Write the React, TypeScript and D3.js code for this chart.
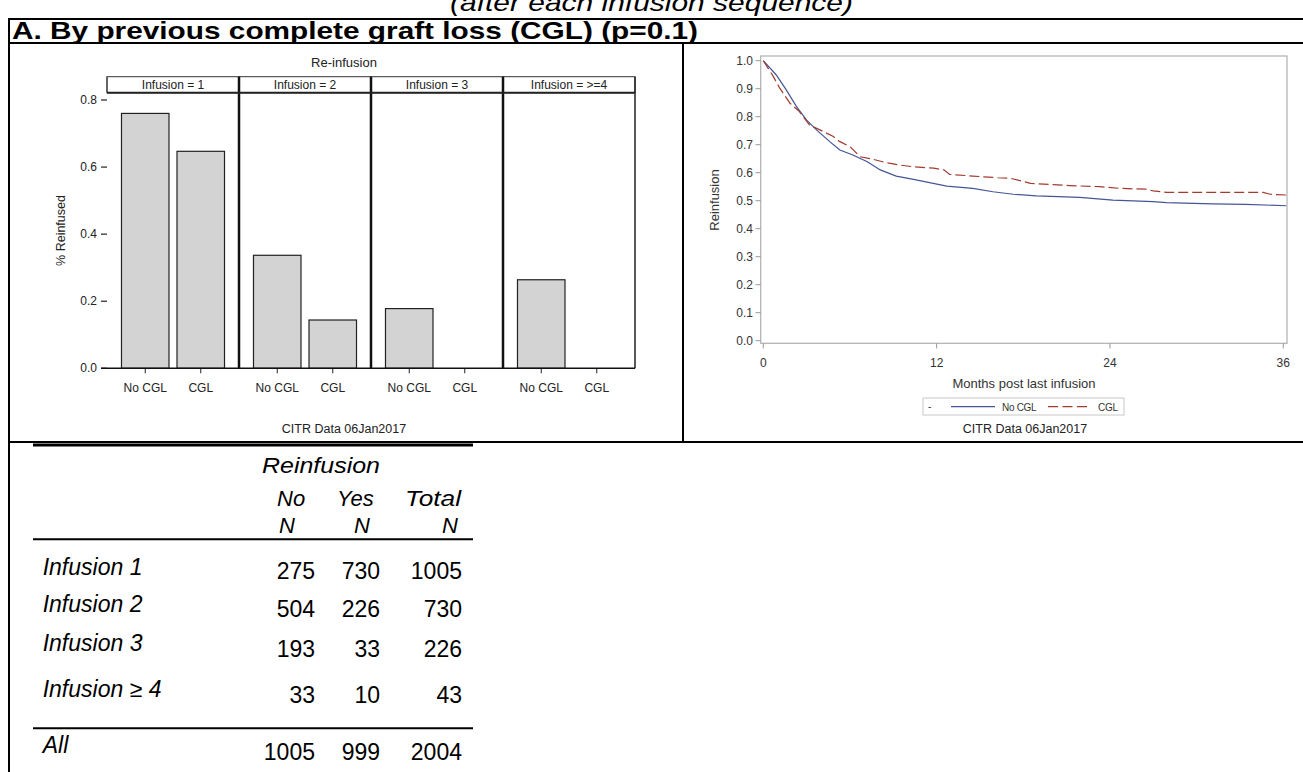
import * as d3 from "d3"

// bar chart: share re-infused by infusion number and previous CGL
const infusionPanels = ["Infusion = 1", "Infusion = 2", "Infusion = 3", "Infusion = >=4"]
const cglGroups = ["No CGL", "CGL"]
const noCglReinfused = [0.76, 0.337, 0.178, 0.264]
const cglReinfused = [0.647, 0.144, 0, 0]
const barTicks = [0, 0.2, 0.4, 0.6, 0.8]

// curves: probability of staying without reinfusion
const noCglMonths = [0, 0.9, 1.6, 2.3, 3.0, 3.7, 4.6, 5.3, 6.2, 7.2, 8.1, 9.2, 10.4, 12.7, 14.5, 15.9, 17.3, 18.9, 21.9, 24.2, 27.0, 27.9, 31.1, 33.4, 36.2]
const noCglRate = [1.0, 0.949, 0.895, 0.836, 0.788, 0.752, 0.711, 0.681, 0.663, 0.639, 0.61, 0.588, 0.576, 0.552, 0.544, 0.532, 0.523, 0.517, 0.512, 0.502, 0.497, 0.493, 0.489, 0.487, 0.482]
const cglMonths = [0, 0.7, 1.15, 1.85, 2.5, 3.2, 4.2, 4.85, 5.3, 6.0, 6.7, 7.6, 8.5, 9.5, 10.4, 11.8, 12.5, 12.9, 14.5, 16.2, 17.1, 18.5, 21.2, 23.3, 24.7, 26.5, 27.0, 27.9, 34.6, 35.1, 36.3]
const cglRate = [1.0, 0.943, 0.901, 0.848, 0.818, 0.77, 0.746, 0.729, 0.711, 0.693, 0.657, 0.648, 0.636, 0.627, 0.621, 0.616, 0.61, 0.594, 0.588, 0.582, 0.58, 0.562, 0.554, 0.55, 0.544, 0.541, 0.535, 0.53, 0.53, 0.523, 0.52]
const monthTicks = [0, 12, 24, 36]
const rateTicks = d3.range(0, 11).map((i) => i / 10)

// table
const tableRows = ["Infusion 1", "Infusion 2", "Infusion 3", "Infusion \u2265 4"]
const reinfNo = [275, 504, 193, 33]
const reinfYes = [730, 226, 33, 10]
const reinfTotal = [1005, 730, 226, 43]
const allRow = [1005, 999, 2004]

const FONT = '"Liberation Sans", Arial, Helvetica, sans-serif'
const BLUE = "#445694"
const RED = "#A23A2E"

export default function App() {
  const W = 1303
  const H = 772

  // bar chart scales
  const panelX = d3.scaleBand<string>().domain(infusionPanels).range([107, 635])
  const barX = d3
    .scaleBand<string>()
    .domain(cglGroups)
    .range([0, panelX.bandwidth()])
    .paddingInner(0.144)
    .paddingOuter(0.261)
  const barY = d3.scaleLinear().domain([0, 0.8]).range([368.3, 100])
  const headerTop = 76.7
  const panelTop = 92.7

  // curve scales
  const kmX = d3.scaleLinear().domain([0, 36]).range([763.3, 1283.3])
  const kmY = d3.scaleLinear().domain([0, 1]).range([340.7, 60.7])
  const kmLine = d3
    .line<[number, number]>()
    .x((d) => kmX(d[0]))
    .y((d) => kmY(d[1]))
    .curve(d3.curveLinear)
  const noCglPts = noCglMonths.map((m, i) => [m, noCglRate[i]] as [number, number])
  const cglPts = cglMonths.map((m, i) => [m, cglRate[i]] as [number, number])

  // table columns (right edges of numbers)
  const numRight = [315, 380, 462]
  const labelBase = [575, 612, 651, 697]
  const numBase = [579, 617, 657, 703]

  return (
    <div style={{ position: "absolute", left: 0, top: 0 }}>
      <svg width={W} height={H} style={{ display: "block", fontFamily: FONT }}>
        <rect width={W} height={H} fill="#fff" />

        {/* page heading, clipped at the top */}
        <text x={450} y={11} fontSize={24} fontStyle="italic" fill="#000" textLength={403} lengthAdjust="spacingAndGlyphs">
          (after each infusion sequence)
        </text>

        {/* frame */}
        <line x1={8} x2={W} y1={19} y2={19} stroke="#000" strokeWidth={2} />
        <line x1={9} x2={9} y1={18} y2={H} stroke="#000" strokeWidth={2} />
        <line x1={8} x2={W} y1={43} y2={43} stroke="#000" strokeWidth={2} />
        <line x1={8} x2={W} y1={442} y2={442} stroke="#000" strokeWidth={2} />
        <line x1={683} x2={683} y1={43} y2={442} stroke="#000" strokeWidth={2} />

        <text x={12} y={38.5} fontSize={24} fontWeight="bold" fill="#000" textLength={686} lengthAdjust="spacingAndGlyphs">
          A. By previous complete graft loss (CGL) (p=0.1)
        </text>

        {/* ---------- bar chart ---------- */}
        <text x={344} y={67} fontSize={13} textAnchor="middle" fill="#222">
          Re-infusion
        </text>
        {barTicks.map((t) => (
          <g key={t}>
            <line x1={101} x2={107} y1={barY(t)} y2={barY(t)} stroke="#222" strokeWidth={1.2} />
            <text x={97} y={barY(t) + 4} fontSize={12} textAnchor="end" fill="#222">
              {t.toFixed(1)}
            </text>
          </g>
        ))}
        <text transform={`translate(65,${(panelTop + barY(0)) / 2}) rotate(-90)`} fontSize={12.5} textAnchor="middle" fill="#222">
          % Reinfused
        </text>
        {infusionPanels.map((p, i) => {
          const x0 = panelX(p) as number
          const w = panelX.bandwidth()
          const vals = [noCglReinfused[i], cglReinfused[i]]
          return (
            <g key={p}>
              <rect x={x0} y={headerTop} width={w} height={panelTop - headerTop} fill="#fff" stroke="#333" strokeWidth={1} />
              <text x={x0 + w / 2} y={89} fontSize={12} textAnchor="middle" fill="#222">
                {p}
              </text>
              {cglGroups.map((g, j) => {
                const bx = x0 + (barX(g) as number)
                const v = vals[j]
                return (
                  <g key={g}>
                    {v > 0 && (
                      <rect
                        x={bx}
                        y={barY(v)}
                        width={barX.bandwidth()}
                        height={barY(0) - barY(v)}
                        fill="#d3d3d3"
                        stroke="#222"
                        strokeWidth={1.2}
                      />
                    )}
                    <line
                      x1={bx + barX.bandwidth() / 2}
                      x2={bx + barX.bandwidth() / 2}
                      y1={barY(0)}
                      y2={barY(0) + 5}
                      stroke="#222"
                      strokeWidth={1}
                    />
                    <text x={bx + barX.bandwidth() / 2} y={392} fontSize={12} textAnchor="middle" fill="#222">
                      {g}
                    </text>
                  </g>
                )
              })}
            </g>
          )
        })}
        <line x1={panelX.range()[0]} x2={panelX.range()[0]} y1={headerTop} y2={panelTop} stroke="#333" strokeWidth={1} />
        {infusionPanels.slice(1).map((p) => (
          <line key={p} x1={panelX(p)} x2={panelX(p)} y1={headerTop} y2={barY(0)} stroke="#111" strokeWidth={2.5} />
        ))}
        <line x1={panelX.range()[1]} x2={panelX.range()[1]} y1={headerTop} y2={barY(0)} stroke="#222" strokeWidth={1.5} />
        <line x1={panelX.range()[0]} x2={panelX.range()[1]} y1={panelTop} y2={panelTop} stroke="#222" strokeWidth={2} />
        <line x1={101} x2={panelX.range()[1]} y1={barY(0)} y2={barY(0)} stroke="#111" strokeWidth={1.5} />
        <text x={344} y={433} fontSize={12.5} textAnchor="middle" fill="#222">
          CITR  Data 06Jan2017
        </text>

        {/* ---------- curve chart ---------- */}
        <rect x={760.7} y={56} width={1287 - 760.7} height={343.3 - 56} fill="none" stroke="#b0b0b0" strokeWidth={1.2} />
        {rateTicks.map((t) => (
          <g key={t}>
            <line x1={755.5} x2={760.7} y1={kmY(t)} y2={kmY(t)} stroke="#999" strokeWidth={1} />
            <text x={753} y={kmY(t) + 4} fontSize={12} textAnchor="end" fill="#333">
              {t.toFixed(1)}
            </text>
          </g>
        ))}
        {monthTicks.map((t) => (
          <g key={t}>
            <line x1={kmX(t)} x2={kmX(t)} y1={343.3} y2={348.5} stroke="#999" strokeWidth={1} />
            <text x={kmX(t)} y={367} fontSize={12} textAnchor="middle" fill="#333">
              {t}
            </text>
          </g>
        ))}
        <text transform={`translate(719,200) rotate(-90)`} fontSize={13} textAnchor="middle" fill="#333">
          Reinfusion
        </text>
        <text x={1024} y={387.5} fontSize={13} textAnchor="middle" fill="#333">
          Months post last infusion
        </text>
        <path d={kmLine(noCglPts) || ""} fill="none" stroke={BLUE} strokeWidth={1.2} />
        <path d={kmLine(cglPts) || ""} fill="none" stroke={RED} strokeWidth={1.2} strokeDasharray="10 4" />

        {/* legend */}
        <rect x={923} y={398} width={1124 - 923} height={17} fill="#fff" stroke="#c8c8c8" strokeWidth={1} />
        <text x={928} y={410} fontSize={10} fill="#333">
          -
        </text>
        <line x1={951} x2={995} y1={406.7} y2={406.7} stroke={BLUE} strokeWidth={1.2} />
        <text x={1002} y={410.5} fontSize={10} fill="#333" letterSpacing={-0.3}>
          {cglGroups[0]}
        </text>
        <line x1={1048} x2={1091} y1={406.7} y2={406.7} stroke={RED} strokeWidth={1.2} strokeDasharray="10 4.5" />
        <text x={1098} y={410.5} fontSize={10} fill="#333" letterSpacing={-0.3}>
          {cglGroups[1]}
        </text>
        <text x={1025} y={433} fontSize={12.5} textAnchor="middle" fill="#222">
          CITR  Data 06Jan2017
        </text>

        {/* ---------- table ---------- */}
        <line x1={33} x2={473} y1={445} y2={445} stroke="#000" strokeWidth={3} />
        <g fontSize={22} fill="#000" fontStyle="italic">
          <text x={262} y={473} textLength={118} lengthAdjust="spacingAndGlyphs">Reinfusion</text>
          <text x={277} y={506}>No</text>
          <text x={337} y={506}>Yes</text>
          <text x={405} y={506} textLength={56} lengthAdjust="spacingAndGlyphs">Total</text>
          <text x={279} y={533}>N</text>
          <text x={354} y={533}>N</text>
          <text x={442} y={533}>N</text>
        </g>
        <line x1={33} x2={473} y1={539.3} y2={539.3} stroke="#000" strokeWidth={2} />
        {tableRows.map((r, i) => (
          <g key={r} fontSize={23} fill="#000">
            <text x={42.7} y={labelBase[i]} fontStyle="italic">
              {r}
            </text>
            {[reinfNo[i], reinfYes[i], reinfTotal[i]].map((v, j) => (
              <text key={j} x={numRight[j]} y={numBase[i]} textAnchor="end">
                {v}
              </text>
            ))}
          </g>
        ))}
        <line x1={33} x2={473} y1={728.3} y2={728.3} stroke="#000" strokeWidth={2} />
        <g fontSize={23} fill="#000">
          <text x={42.7} y={753} fontStyle="italic">All</text>
          {allRow.map((v, j) => (
            <text key={j} x={numRight[j]} y={760} textAnchor="end">
              {v}
            </text>
          ))}
        </g>
      </svg>
    </div>
  )
}
